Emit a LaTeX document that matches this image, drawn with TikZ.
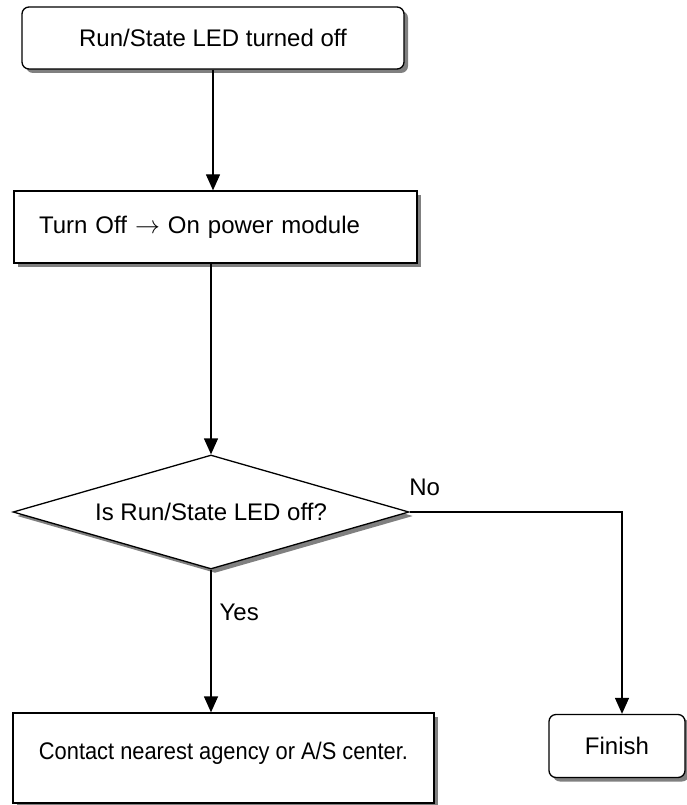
\documentclass[tikz,border=0pt]{standalone}
\usepackage{fontspec}
\setmainfont{Liberation Sans}
\usetikzlibrary{shapes.geometric,arrows.meta,shadows}
\begin{document}
\begin{tikzpicture}[x=1pt,y=-1pt,
  every node/.style={font=\fontsize{24}{28}\selectfont, inner sep=0pt},
  box/.style={draw, line width=1.3pt, fill=white,
    drop shadow={shadow xshift=4pt, shadow yshift=-4pt, fill=black!50, opacity=1}},
  rbox/.style={box, rounded corners=7pt},
  conn/.style={line width=1.3pt, -{Triangle[length=16pt,width=14pt]}},
  lbl/.style={font=\fontsize{24}{28}\selectfont}
]
\useasboundingbox (0,0) rectangle (686,805);
\node[rbox, minimum width=382pt, minimum height=62pt] (top) at (213,38) {Run/State LED turned off};
\node[box, minimum width=403pt, minimum height=72pt, text width=353pt, align=left] (pow) at (215.5,227) {\raisebox{4pt}{Turn Off $\rightarrow$ On power module}};
\node[diamond, box, aspect=3.47, minimum width=396pt, minimum height=114pt] (dia) at (211,512) {Is Run/State LED off?};
\node[box, minimum width=421pt, minimum height=90pt] (contact) at (223.5,758) {\raisebox{15pt}{\scalebox{0.91}[1]{Contact nearest agency or A/S center.}}};
\node[rbox, minimum width=136pt, minimum height=63pt] (fin) at (617,746) {Finish};
\draw[conn] (top.south) -- (top.south |- pow.north);
\draw[conn] (pow.south -| dia.north) -- (dia.north);
\draw[conn] (dia.south) -- (dia.south |- contact.north) node[lbl, pos=0.3, right=8pt] {Yes};
\draw[conn] (dia.east) -| ([xshift=5pt]fin.north) node[lbl, pos=0, anchor=south west, yshift=16pt, xshift=-1pt] {No};
\end{tikzpicture}
\end{document}
